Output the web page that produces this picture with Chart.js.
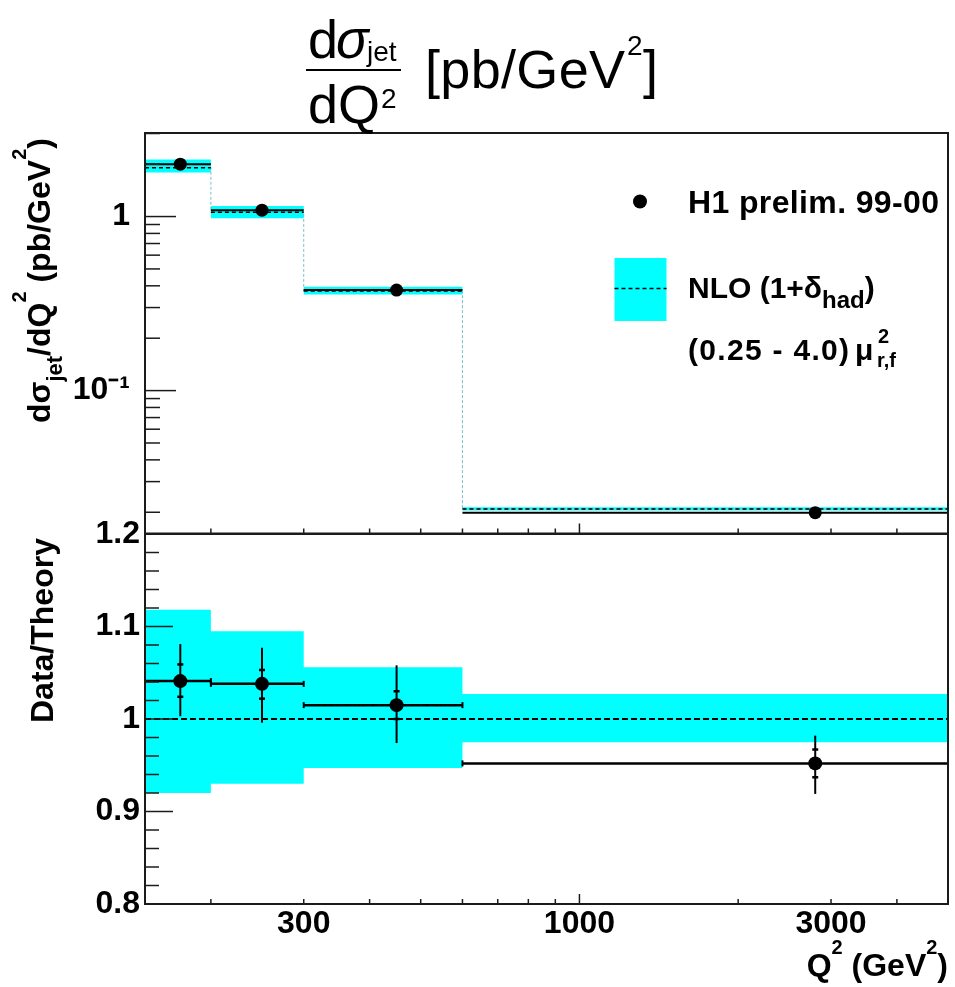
<!DOCTYPE html>
<html>
<head>
<meta charset="utf-8">
<script src="https://cdn.jsdelivr.net/npm/chart.js@4.4.1/dist/chart.umd.min.js"></script>
<style>
html, body { margin: 0; padding: 0; background: #fff; }
#wrap { position: relative; width: 955px; height: 987px; overflow: hidden; background: #fff; }
#c1wrap { position: absolute; left: 0; top: 0; width: 955px; height: 540px; }
#c2wrap { position: absolute; left: 0; top: 500px; width: 955px; height: 487px; }
svg { position: absolute; left: 0; top: 0; pointer-events: none; }
svg text { font-family: "Liberation Sans", Arial, Helvetica, sans-serif; white-space: pre; fill: #000; }
</style>
</head>
<body>
<div id="wrap">
  <div id="c1wrap"><canvas id="c1" width="955" height="540"></canvas></div>
  <div id="c2wrap"><canvas id="c2" width="955" height="487"></canvas></div>
  <svg width="955" height="987" xmlns="http://www.w3.org/2000/svg">
    <!-- title -->
    <text x="308" y="58" font-size="54">d</text>
    <text x="336" y="58" font-size="54" font-style="italic">σ</text>
    <text x="367" y="61" font-size="28">jet</text>
    <line x1="306" x2="401" y1="70" y2="70" stroke="#000" stroke-width="2"/>
    <text x="308" y="123" font-size="54">dQ</text>
    <text x="381" y="108" font-size="28">2</text>
    <text x="425" y="88" font-size="54" textLength="200" lengthAdjust="spacing">[pb/GeV</text>
    <text x="627" y="55" font-size="28">2</text>
    <text x="643" y="88" font-size="54">]</text>

    <!-- y axis titles -->
    <text transform="translate(50,423) rotate(-90)" font-size="32" font-weight="bold">dσ<tspan font-size="22" dy="12">jet</tspan><tspan dy="-12">/dQ</tspan><tspan font-size="20" dy="-24">2</tspan><tspan dy="24"> (pb/GeV</tspan><tspan font-size="20" dy="-24">2</tspan><tspan dy="24">)</tspan></text>
    <text transform="translate(53,723) rotate(-90)" font-size="32" font-weight="bold">Data/Theory</text>

    <!-- x axis title -->
    <text x="948" y="976" text-anchor="end" font-size="32" font-weight="bold">Q<tspan font-size="20" dy="-22">2</tspan><tspan dy="22"> (GeV</tspan><tspan font-size="20" dy="-22">2</tspan><tspan dy="22">)</tspan></text>

    <!-- legend -->
    <circle cx="640" cy="201.5" r="7" fill="#000"/>
    <text x="688" y="213" font-size="32" font-weight="bold" textLength="251" lengthAdjust="spacing">H1 prelim. 99-00</text>
    <rect x="614.5" y="258" width="52" height="63" fill="#00ffff"/>
    <line x1="614.5" x2="666.5" y1="288.5" y2="288.5" stroke="#000" stroke-width="1.5" stroke-dasharray="4 3"/>
    <text x="688" y="298" font-size="30" font-weight="bold">NLO (1+δ<tspan font-size="24" dy="10">had</tspan><tspan dy="-10">)</tspan></text>
    <text x="688" y="360" font-size="30" font-weight="bold" textLength="161" lengthAdjust="spacing">(0.25 - 4.0)</text>
    <text x="855" y="360" font-size="30" font-weight="bold">μ</text>
    <text x="878" y="343" font-size="20" font-weight="bold">2</text>
    <text x="877" y="367" font-size="20" font-weight="bold">r,f</text>
  </svg>
</div>
<script>
// ---------------- data ----------------
const binEdges      = [150, 200, 300, 600, 5000];
const q2Points      = [175, 250, 450, 2800];
const xsecData      = [2.00, 1.088, 0.378, 0.0199];
const xsecErr       = [0.08, 0.042, 0.016, 0.0007];
const xsecTheory    = [1.91, 1.06, 0.373, 0.0209];
const xsecTheoryLo  = [1.79, 0.979, 0.356, 0.0205];
const xsecTheoryHi  = [2.13, 1.15, 0.395, 0.0214];
const ratioData     = [1.041, 1.038, 1.015, 0.952];
const ratioStatLo   = [1.024, 1.022, 1.000, 0.937];
const ratioStatHi   = [1.059, 1.053, 1.030, 0.967];
const ratioTotLo    = [1.003, 0.996, 0.974, 0.919];
const ratioTotHi    = [1.081, 1.077, 1.058, 0.982];
const ratioBandLo   = [0.920, 0.930, 0.947, 0.975];
const ratioBandHi   = [1.118, 1.095, 1.056, 1.027];
const ratioTheory   = [1, 1, 1, 1];
const xLabelTicks   = [300, 1000, 3000];
const xMajorTicks   = [1000];
const xMinorTicks   = [200, 300, 400, 500, 600, 700, 800, 900, 2000, 3000, 4000];
const yTopLabelTicks = [0.1, 1];
const yTopMinorTicks = [0.02, 0.03, 0.04, 0.05, 0.06, 0.07, 0.08, 0.09, 0.2, 0.3, 0.4, 0.5, 0.6, 0.7, 0.8, 0.9, 2, 3];
const yBotLabelTicks = [0.8, 0.9, 1.0, 1.1, 1.2];
const yBotMinorTicks = [0.82, 0.84, 0.86, 0.88, 0.92, 0.94, 0.96, 0.98, 1.02, 1.04, 1.06, 1.08, 1.12, 1.14, 1.16, 1.18];

// ---------------- helpers ----------------
function stepSeries(vals) {
  return binEdges.map((e, i) => ({ x: e, y: vals[Math.min(i, vals.length - 1)] }));
}
function segSeries(vals) {
  const out = [];
  vals.forEach((v, i) => {
    out.push({ x: binEdges[i], y: v }, { x: binEdges[i + 1], y: v });
    if (i < vals.length - 1) out.push({ x: binEdges[i + 1], y: null });
  });
  return out;
}
function pts(vals) { return q2Points.map((x, i) => ({ x: x, y: vals[i] })); }
function seg(ctx, x1, y1, x2, y2) { ctx.beginPath(); ctx.moveTo(x1, y1); ctx.lineTo(x2, y2); ctx.stroke(); }

const FONT = '"Liberation Sans", Arial, Helvetica, sans-serif';
const tickFont = { family: FONT, size: 32, weight: 'bold' };
const supMap = { '-': '⁻', '0': '⁰', '1': '¹', '2': '²', '3': '³' };

function decor(cfg) {
  return {
    id: 'decor',
    afterDraw(chart) {
      const ctx = chart.ctx, a = chart.chartArea;
      const xs = chart.scales.x, ys = chart.scales.y;
      ctx.save();
      ctx.strokeStyle = '#1b1b1b';
      ctx.lineWidth = 1.5;
      cfg.yMajor.forEach(v => { const p = ys.getPixelForValue(v); seg(ctx, a.left, p, a.left + cfg.yMajorLen, p); });
      cfg.yMinor.forEach(v => { const p = ys.getPixelForValue(v); seg(ctx, a.left, p, a.left + cfg.yMinorLen, p); });
      xMajorTicks.forEach(v => { const p = xs.getPixelForValue(v); seg(ctx, p, a.bottom, p, a.bottom - 10); });
      xMinorTicks.forEach(v => { const p = xs.getPixelForValue(v); seg(ctx, p, a.bottom, p, a.bottom - 5); });
      ctx.lineWidth = 2;
      ctx.strokeRect(a.left, a.top, a.right - a.left, a.bottom - a.top);
      ctx.restore();
    }
  };
}

const topErrors = {
  id: 'topErrors',
  afterDatasetsDraw(chart) {
    const ctx = chart.ctx, xs = chart.scales.x, ys = chart.scales.y;
    ctx.save();
    ctx.strokeStyle = '#000';
    ctx.lineWidth = 2;
    q2Points.forEach((q, i) => {
      const px = xs.getPixelForValue(q);
      seg(ctx, px, ys.getPixelForValue(xsecData[i] - xsecErr[i]), px, ys.getPixelForValue(xsecData[i] + xsecErr[i]));
    });
    ctx.restore();
  }
};

const ratioErrors = {
  id: 'ratioErrors',
  afterDatasetsDraw(chart) {
    const ctx = chart.ctx, xs = chart.scales.x, ys = chart.scales.y;
    ctx.save();
    ctx.strokeStyle = '#000';
    q2Points.forEach((q, i) => {
      const px = xs.getPixelForValue(q);
      ctx.lineWidth = 2;
      seg(ctx, px, ys.getPixelForValue(ratioTotLo[i]), px, ys.getPixelForValue(ratioTotHi[i]));
      ctx.lineWidth = 2.5;
      [ratioStatLo[i], ratioStatHi[i]].forEach(v => {
        const py = ys.getPixelForValue(v);
        seg(ctx, px - 3, py, px + 3, py);
      });
      ctx.lineWidth = 2;
      const py = ys.getPixelForValue(ratioData[i]);
      [binEdges[i], binEdges[i + 1]].forEach(e => {
        const ex = xs.getPixelForValue(e);
        seg(ctx, ex, py - 3, ex, py + 3);
      });
    });
    ctx.restore();
  }
};

function bandDatasets(lo, hi) {
  return [
    { label: 'band hi', data: stepSeries(hi), stepped: 'before', borderWidth: 0, borderColor: 'rgba(0,0,0,0)',
      pointRadius: 0, fill: false, order: 5 },
    { label: 'band lo', data: stepSeries(lo), stepped: 'before', borderWidth: 0, borderColor: 'rgba(0,0,0,0)',
      backgroundColor: '#00ffff', pointRadius: 0, fill: '-1', order: 4 }
  ];
}
function noPadY(s) { s.width = 145; s.paddingTop = 0; s.paddingBottom = 0; }

// ---------------- top chart ----------------
new Chart(document.getElementById('c1'), {
  type: 'line',
  data: {
    datasets: [
      ...bandDatasets(xsecTheoryLo, xsecTheoryHi),
      { label: 'NLO outline', data: stepSeries(xsecTheory), stepped: 'before', borderColor: 'rgba(110,185,195,0.9)',
        borderWidth: 1, borderDash: [3, 2], pointRadius: 0, fill: false, order: 3 },
      { label: 'NLO (1+δhad)', data: segSeries(xsecTheory), borderColor: '#000', borderWidth: 1.5,
        borderDash: [4, 3], pointRadius: 0, fill: false, order: 2 },
      { label: 'bin width', data: segSeries(xsecData), borderColor: '#000', borderWidth: 2,
        pointRadius: 0, fill: false, order: 1 },
      { label: 'H1 prelim. 99-00', data: pts(xsecData), showLine: false, pointRadius: 6.5,
        pointBackgroundColor: '#000', pointBorderColor: '#000', pointBorderWidth: 0, order: 0 }
    ]
  },
  options: {
    responsive: false, animation: false, devicePixelRatio: 1,
    layout: { padding: { left: 0, right: 7, top: 133, bottom: 6 } },
    plugins: { legend: { display: false }, tooltip: { enabled: false } },
    scales: {
      x: { type: 'logarithmic', min: binEdges[0], max: binEdges[binEdges.length - 1], display: false,
           afterFit: s => { s.paddingLeft = 0; s.paddingRight = 0; } },
      y: {
        type: 'logarithmic', min: 0.0151, max: 3.02, position: 'left',
        grid: { display: false, drawTicks: false }, border: { display: false },
        afterBuildTicks: s => { s.ticks = yTopLabelTicks.map(v => ({ value: v })); },
        afterFit: noPadY,
        ticks: {
          font: tickFont, color: '#000', padding: 15, autoSkip: false,
          callback: v => {
            const e = Math.round(Math.log10(v));
            return e === 0 ? '1' : '10' + String(e).split('').map(c => supMap[c]).join('');
          }
        }
      }
    }
  },
  plugins: [topErrors, decor({ yMajor: yTopLabelTicks, yMinor: yTopMinorTicks, yMajorLen: 31, yMinorLen: 15 })]
});

// ---------------- ratio chart ----------------
new Chart(document.getElementById('c2'), {
  type: 'line',
  data: {
    datasets: [
      ...bandDatasets(ratioBandLo, ratioBandHi),
      { label: 'theory', data: stepSeries(ratioTheory), stepped: 'before', borderColor: '#000', borderWidth: 2,
        borderDash: [6, 3], pointRadius: 0, fill: false, order: 2 },
      { label: 'bin width', data: segSeries(ratioData), borderColor: '#000', borderWidth: 2.5,
        pointRadius: 0, fill: false, order: 1 },
      { label: 'Data/Theory', data: pts(ratioData), showLine: false, pointRadius: 7,
        pointBackgroundColor: '#000', pointBorderColor: '#000', pointBorderWidth: 0, order: 0 }
    ]
  },
  options: {
    responsive: false, animation: false, devicePixelRatio: 1,
    layout: { padding: { left: 0, right: 7, top: 34, bottom: 0 } },
    plugins: { legend: { display: false }, tooltip: { enabled: false } },
    scales: {
      x: {
        type: 'logarithmic', min: binEdges[0], max: binEdges[binEdges.length - 1], position: 'bottom',
        grid: { display: false, drawTicks: false }, border: { display: false },
        afterBuildTicks: s => { s.ticks = xLabelTicks.map(v => ({ value: v })); },
        afterFit: s => { s.height = 83; s.paddingLeft = 0; s.paddingRight = 0; },
        ticks: { font: tickFont, color: '#000', padding: 1, autoSkip: false, maxRotation: 0, minRotation: 0,
                 callback: v => String(v) }
      },
      y: {
        type: 'linear', min: 0.8, max: 1.2, position: 'left',
        grid: { display: false, drawTicks: false }, border: { display: false },
        afterBuildTicks: s => { s.ticks = yBotLabelTicks.map(v => ({ value: v })); },
        afterFit: noPadY,
        ticks: { font: tickFont, color: '#000', padding: 5, autoSkip: false,
                 callback: v => String(Math.round(v * 10) / 10) }
      }
    }
  },
  plugins: [ratioErrors, decor({ yMajor: yBotLabelTicks, yMinor: yBotMinorTicks, yMajorLen: 28, yMinorLen: 14 })]
});
</script>
</body>
</html>
